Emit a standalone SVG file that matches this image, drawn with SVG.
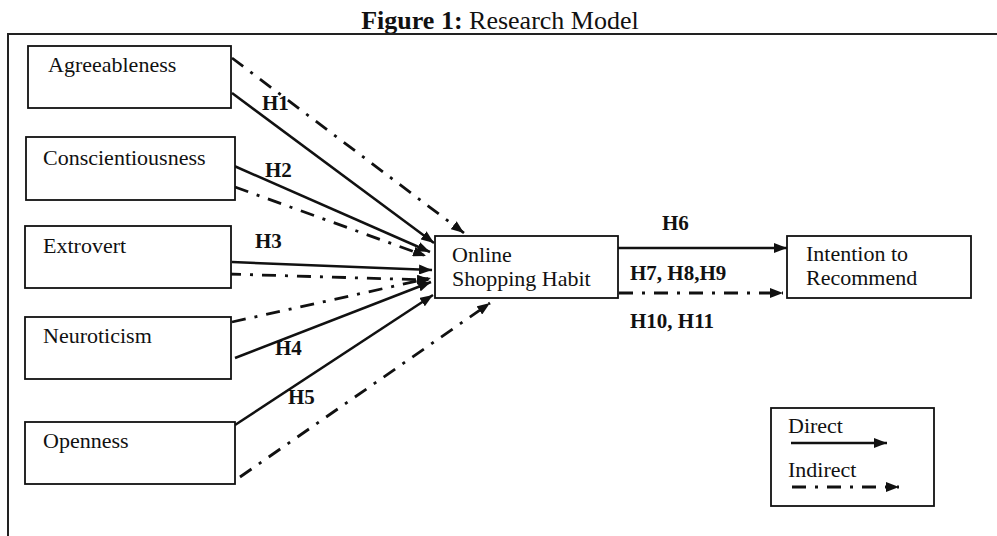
<svg xmlns="http://www.w3.org/2000/svg" width="997" height="536" viewBox="0 0 997 536">
<style>
text{font-family:"Liberation Serif","Times New Roman",serif;fill:#111}
.lbl{font-size:22px}
.h{font-size:21px;font-weight:bold}
.box{fill:#fff;stroke:#111;stroke-width:1.8}
.direct{stroke:#111;stroke-width:2.5;fill:none;marker-end:url(#ah)}
.indirect{stroke:#111;stroke-width:2.8;fill:none;stroke-dasharray:14 9 3 9;marker-end:url(#ah)}
</style>
<defs>
<marker id="ah" markerUnits="userSpaceOnUse" markerWidth="13" markerHeight="10" refX="13" refY="5" orient="auto">
<path d="M0,0 L13,5 L0,10 z" fill="#111"/>
</marker>
</defs>
<rect width="997" height="536" fill="#fff"/>
<text x="500" y="29" text-anchor="middle" style="font-size:26px"><tspan font-weight="bold">Figure 1:</tspan> Research Model</text>
<path d="M8,536 L8,34 L997,34" fill="none" stroke="#222" stroke-width="2"/>

<g id="connectors">
<line class="direct" x1="232" y1="93" x2="434" y2="243"/>
<line class="direct" x1="232" y1="165" x2="430" y2="252"/>
<line class="direct" x1="232" y1="262" x2="432" y2="270"/>
<line class="direct" x1="235" y1="358" x2="431" y2="282"/>
<line class="direct" x1="235" y1="425" x2="433" y2="295"/>
<line class="direct" x1="618" y1="248" x2="787" y2="248"/>
<line class="indirect" x1="232" y1="58" x2="464" y2="233"/>
<line class="indirect" x1="235" y1="187" x2="426" y2="256"/>
<line class="indirect" x1="227" y1="274" x2="430" y2="280"/>
<line class="indirect" x1="232" y1="322" x2="431" y2="278"/>
<line class="indirect" x1="240" y1="477" x2="490" y2="303"/>
<line class="indirect" x1="619" y1="293" x2="783" y2="293"/>
<text class="h" x="262" y="110">H1</text>
<text class="h" x="265" y="177">H2</text>
<text class="h" x="255" y="248">H3</text>
<text class="h" x="275" y="355">H4</text>
<text class="h" x="288" y="404">H5</text>
<text class="h" x="662" y="230">H6</text>
<text class="h" x="630" y="280">H7, H8,H9</text>
<text class="h" x="630" y="328">H10, H11</text>
</g>

<g id="agreeableness">
<rect class="box" x="28" y="46" width="203" height="62"/>
<text class="lbl" x="48" y="72">Agreeableness</text>
</g>
<g id="conscientiousness">
<rect class="box" x="26" y="137" width="209" height="63"/>
<text class="lbl" x="43" y="165">Conscientiousness</text>
</g>
<g id="extrovert">
<rect class="box" x="25" y="226" width="206" height="62"/>
<text class="lbl" x="43" y="253">Extrovert</text>
</g>
<g id="neuroticism">
<rect class="box" x="25" y="317" width="206" height="62"/>
<text class="lbl" x="43" y="343">Neuroticism</text>
</g>
<g id="openness">
<rect class="box" x="25" y="422" width="210" height="62"/>
<text class="lbl" x="43" y="448">Openness</text>
</g>
<g id="online-shopping-habit">
<rect class="box" x="435" y="236" width="183" height="62"/>
<text class="lbl" x="452" y="262">Online</text>
<text class="lbl" x="452" y="286">Shopping Habit</text>
</g>
<g id="intention-to-recommend">
<rect class="box" x="787" y="236" width="184" height="62"/>
<text class="lbl" x="806" y="261">Intention to</text>
<text class="lbl" x="806" y="285">Recommend</text>
</g>
<g id="legend">
<rect class="box" x="771" y="408" width="163" height="98"/>
<text class="lbl" x="788" y="433">Direct</text>
<line class="direct" x1="791" y1="443" x2="887" y2="443"/>
<text class="lbl" x="788" y="477">Indirect</text>
<line class="indirect" x1="792" y1="487" x2="899" y2="487"/>
</g>
</svg>
